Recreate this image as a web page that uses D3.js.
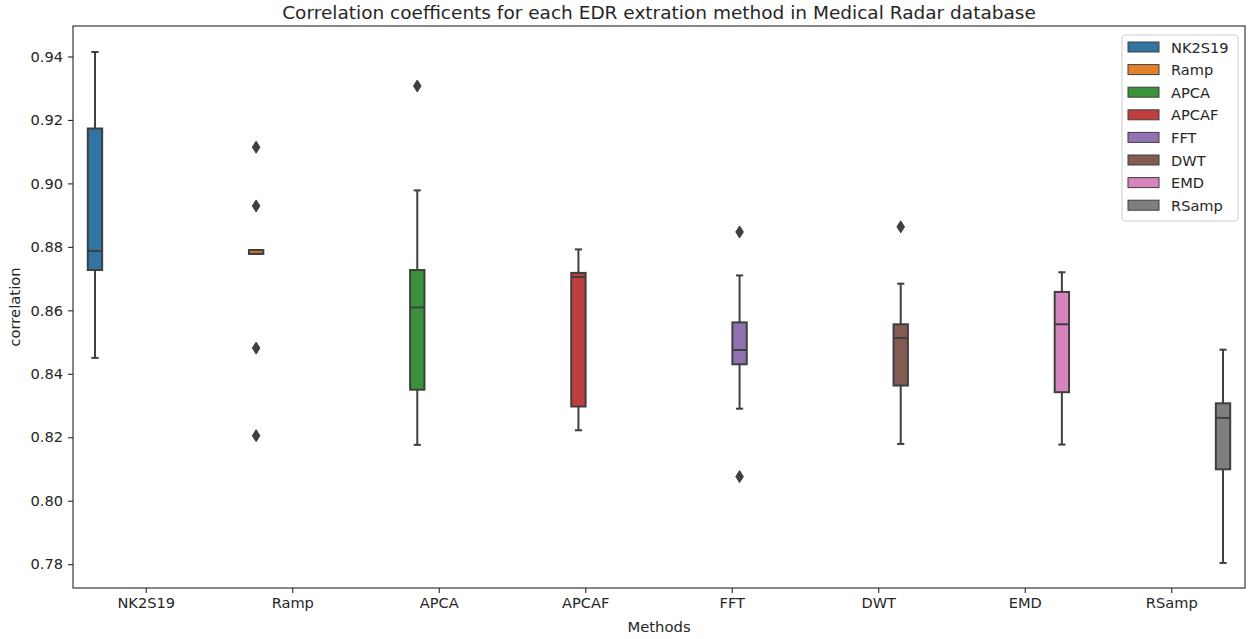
<!DOCTYPE html>
<html>
<head>
<meta charset="utf-8">
<script src="https://cdn.jsdelivr.net/npm/d3@7"></script>
<style>
  body { margin: 0; background: #fff; }
  text { font-family: "DejaVu Sans", sans-serif; fill: #262626; }
</style>
</head>
<body>
<div id="chart"></div>
<script>
// Methods (x categories / hue)
const methods = ["NK2S19", "Ramp", "APCA", "APCAF", "FFT", "DWT", "EMD", "RSamp"];
// Box statistics
const whiskerLow  = [0.8450, 0.8778, 0.8176, 0.8222, 0.8290, 0.8179, 0.8177, 0.7804];
const q1s         = [0.8727, 0.8778, 0.8350, 0.8297, 0.8430, 0.8363, 0.8342, 0.8099];
const medians     = [0.8787, 0.8778, 0.8609, 0.8705, 0.8475, 0.8513, 0.8556, 0.8261];
const q3s         = [0.9173, 0.8790, 0.8727, 0.8718, 0.8562, 0.8556, 0.8658, 0.8307];
const whiskerHigh = [0.9414, 0.8790, 0.8978, 0.8792, 0.8710, 0.8684, 0.8720, 0.8476];
const outliers = [
  [],
  [0.9114, 0.8929, 0.8481, 0.8205],
  [0.9307],
  [],
  [0.8847, 0.8076],
  [0.8863],
  [],
  []
];
const yTicks = [0.78, 0.80, 0.82, 0.84, 0.86, 0.88, 0.90, 0.92, 0.94];
const colors = ["#3274a1", "#e1812c", "#3a923a", "#c03d3e", "#9372b2", "#845b53", "#d684bd", "#7f7f7f"];

const data = methods.map((m, i) => ({
  method: m, lo: whiskerLow[i], q1: q1s[i], med: medians[i], q3: q3s[i], hi: whiskerHigh[i], out: outliers[i]
}));

const margin = {top: 26, right: 5, bottom: 51, left: 73},
      width = 1250 - margin.left - margin.right,
      height = 639 - margin.top - margin.bottom;

const svg = d3.select("#chart")
  .append("svg")
  .attr("width", width + margin.left + margin.right)
  .attr("height", height + margin.top + margin.bottom);

const g = svg.append("g").attr("transform", `translate(${margin.left},${margin.top})`);

const x0 = d3.scaleBand().domain(methods).range([0, width]).padding(0);
// nested hue scale: 0.8 of category width split into 8 slots
const x1 = d3.scaleBand().domain(methods)
  .range([x0.bandwidth() * 0.1, x0.bandwidth() * 0.9]).padding(0);

const y = d3.scaleLinear().domain([0.7725, 0.9496]).range([height, 0]);
const color = d3.scaleOrdinal().domain(methods).range(colors);
const gray = "#3f3f3f";

// Axes
const xAxis = g.append("g")
  .attr("transform", `translate(0,${height})`)
  .call(d3.axisBottom(x0).tickSize(5).tickPadding(5));
const yAxis = g.append("g")
  .call(d3.axisLeft(y).tickValues(yTicks).tickFormat(d3.format(".2f")).tickSize(5).tickPadding(5));

[xAxis, yAxis].forEach(ax => {
  ax.select(".domain").remove();
  ax.selectAll(".tick line").attr("stroke", "#262626").attr("stroke-width", 1.1);
  ax.selectAll(".tick text").style("font-size", "14.6px").attr("fill", "#262626");
});

// Draw boxes
data.forEach(d => {
  const bw = x1.bandwidth() * 0.98,
        cx = x0(d.method) + x1(d.method) + x1.bandwidth() / 2;

  // whiskers
  g.append("line")
    .attr("x1", cx).attr("x2", cx)
    .attr("y1", y(d.q3)).attr("y2", y(d.hi))
    .attr("stroke", gray).attr("stroke-width", 2);
  g.append("line")
    .attr("x1", cx).attr("x2", cx)
    .attr("y1", y(d.q1)).attr("y2", y(d.lo))
    .attr("stroke", gray).attr("stroke-width", 2);
  // caps
  [d.lo, d.hi].forEach(v => {
    g.append("line")
      .attr("x1", cx - bw / 4).attr("x2", cx + bw / 4)
      .attr("y1", y(v)).attr("y2", y(v))
      .attr("stroke", gray).attr("stroke-width", 2);
  });
  // box
  g.append("rect")
    .attr("x", cx - bw / 2).attr("y", y(d.q3))
    .attr("width", bw)
    .attr("height", Math.max(0, y(d.q1) - y(d.q3)))
    .attr("fill", color(d.method))
    .attr("stroke", gray).attr("stroke-width", 2);
  // median
  g.append("line")
    .attr("x1", cx - bw / 2).attr("x2", cx + bw / 2)
    .attr("y1", y(d.med)).attr("y2", y(d.med))
    .attr("stroke", gray).attr("stroke-width", 2);
  // outliers (thin diamonds)
  g.selectAll(null)
    .data(d.out)
    .enter()
    .append("path")
    .attr("d", "M0,-6L3.8,0L0,6L-3.8,0Z")
    .attr("transform", v => `translate(${cx},${y(v)})`)
    .attr("fill", gray).attr("stroke", gray).attr("stroke-width", 1);
});

// Frame
g.append("rect")
  .attr("x", 0).attr("y", 0)
  .attr("width", width).attr("height", height)
  .attr("fill", "none").attr("stroke", "#262626").attr("stroke-width", 1.1);

// Title
svg.append("text")
  .attr("x", margin.left + width / 2)
  .attr("y", 18.5)
  .attr("text-anchor", "middle")
  .style("font-size", "18.5px")
  .text("Correlation coefficents for each EDR extration method in Medical Radar database");

// Axis labels
svg.append("text")
  .attr("x", margin.left + width / 2)
  .attr("y", 632)
  .attr("text-anchor", "middle")
  .style("font-size", "14.8px")
  .text("Methods");

svg.append("text")
  .attr("transform", "rotate(-90)")
  .attr("x", -(margin.top + height / 2))
  .attr("y", 20)
  .attr("text-anchor", "middle")
  .style("font-size", "14.8px")
  .text("correlation");

// Legend
const legend = svg.append("g").attr("transform", "translate(1122,35)");
legend.append("rect")
  .attr("x", 0).attr("y", 0)
  .attr("width", 116).attr("height", 186)
  .attr("rx", 3)
  .attr("fill", "#fff").attr("fill-opacity", 0.8)
  .attr("stroke", "#cccccc").attr("stroke-width", 1);

methods.forEach((m, i) => {
  legend.append("rect")
    .attr("x", 6).attr("y", 7 + i * 22.6)
    .attr("width", 31).attr("height", 10)
    .attr("fill", color(m))
    .attr("stroke", gray).attr("stroke-width", 1);
  legend.append("text")
    .attr("x", 49).attr("y", 12 + i * 22.6)
    .attr("dominant-baseline", "central")
    .style("font-size", "14.6px")
    .text(m);
});
</script>
</body>
</html>
